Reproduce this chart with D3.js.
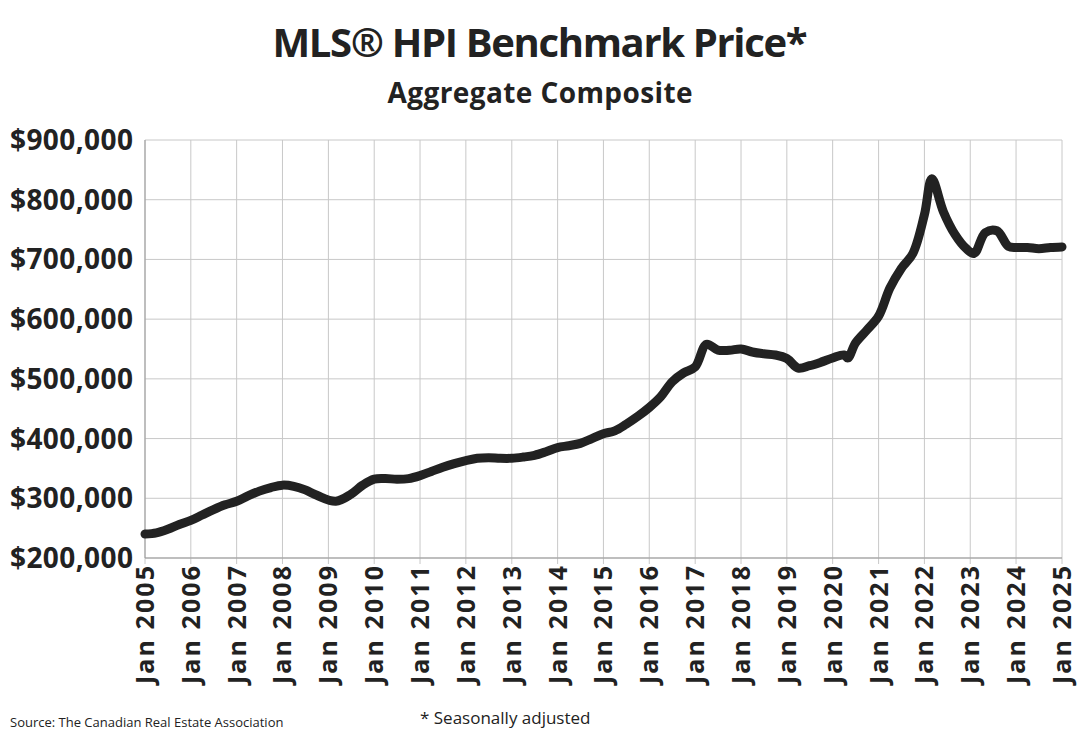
<!DOCTYPE html>
<html><head><meta charset="utf-8">
<script src="https://cdn.jsdelivr.net/npm/d3@7"></script>
<style>body{margin:0;background:#fff;font-family:"Open Sans",sans-serif}</style>
</head><body><svg id="c" width="1079" height="739"></svg>
<script>
const dates = ["2005-01","2005-04","2005-07","2005-10","2006-01","2006-04","2006-07","2006-10","2007-01","2007-04","2007-07","2007-10","2008-01","2008-04","2008-07","2008-10","2009-03","2009-07","2009-10","2010-01","2010-04","2010-07","2010-10","2011-01","2011-04","2011-07","2011-10","2012-01","2012-04","2012-07","2012-10","2013-01","2013-04","2013-07","2013-10","2014-01","2014-04","2014-07","2014-10","2015-01","2015-04","2015-07","2015-10","2016-01","2016-04","2016-07","2016-10","2017-01","2017-04","2017-07","2017-10","2018-01","2018-04","2018-07","2018-10","2019-01","2019-04","2019-07","2019-10","2020-01","2020-04","2020-05","2020-07","2020-10","2021-01","2021-04","2021-07","2021-10","2022-01","2022-03","2022-06","2022-09","2022-12","2023-02","2023-05","2023-08","2023-11","2024-01","2024-04","2024-07","2024-10","2025-01"];
const prices = [240,242,248,256,263,272,281,289,295,304,312,318,322,320,314,305,295,307,322,332,333,332,333,338,345,352,358,363,367,368,367,367,369,372,378,385,388,392,400,408,413,424,437,452,470,495,510,520,558,548,548,550,545,542,540,534,518,522,528,535,540,535,560,582,605,652,685,710,775,835,780,742,718,710,745,748,722,720,720,718,720,721];
const yTicks = [200000,300000,400000,500000,600000,700000,800000,900000];
const xYears = d3.range(2005,2026);
const data = dates.map((d,i)=>({date:d3.timeParse("%Y-%m")(d), v:prices[i]*1000}));
const svg = d3.select("#c");
const L=145,R=1062,T=140,B=558;
const x=d3.scaleTime().domain([new Date(2005,0,1),new Date(2025,0,1)]).range([L,R]);
const y=d3.scaleLinear().domain([200000,900000]).range([B,T]);
const F='"Open Sans",sans-serif';
svg.append("text").attr("x",540).attr("y",57).attr("text-anchor","middle").attr("font-family",F).attr("font-size",40).attr("font-weight","bold").attr("fill","#222").attr("textLength",535).text("MLS® HPI Benchmark Price*");
svg.append("text").attr("x",540).attr("y",103).attr("text-anchor","middle").attr("font-family",F).attr("font-size",28).attr("font-weight","bold").attr("fill","#222").attr("textLength",305).text("Aggregate Composite");
const g=svg.append("g");
xYears.forEach(yr=>{g.append("line").attr("x1",x(new Date(yr,0,1))).attr("x2",x(new Date(yr,0,1))).attr("y1",T).attr("y2",B+6).attr("stroke","#c8c8c8");});
yTicks.forEach(t=>{g.append("line").attr("x1",L).attr("x2",R).attr("y1",y(t)).attr("y2",y(t)).attr("stroke","#c8c8c8");
 g.append("text").attr("x",L-12).attr("y",y(t)+10).attr("text-anchor","end").attr("font-family",F).attr("font-size",28).attr("font-weight","bold").attr("fill","#222").attr("textLength",123).text(d3.format("$,")(t));});
g.append("line").attr("x1",L).attr("x2",L).attr("y1",T).attr("y2",B).attr("stroke","#999");
g.append("line").attr("x1",L).attr("x2",R).attr("y1",B).attr("y2",B).attr("stroke","#999");
xYears.forEach(yr=>{const px=x(new Date(yr,0,1));
 g.append("text").attr("transform",`translate(${px+9},${B+8}) rotate(-90)`).attr("text-anchor","end").attr("font-family",F).attr("font-size",25).attr("font-weight","bold").attr("fill","#222").attr("textLength",118).text("Jan "+yr);});
svg.append("path").datum(data).attr("fill","none").attr("stroke","#222").attr("stroke-width",9).attr("stroke-linejoin","round").attr("stroke-linecap","round")
 .attr("d",d3.line().x(d=>x(d.date)).y(d=>y(d.v)).curve(d3.curveCatmullRom));
svg.append("text").attr("x",10).attr("y",727).attr("font-family",F).attr("font-size",13).attr("fill","#222").text("Source: The Canadian Real Estate Association");
svg.append("text").attr("x",420).attr("y",724).attr("font-family",F).attr("font-size",17).attr("fill","#222").text("* Seasonally adjusted");
</script></body></html>
